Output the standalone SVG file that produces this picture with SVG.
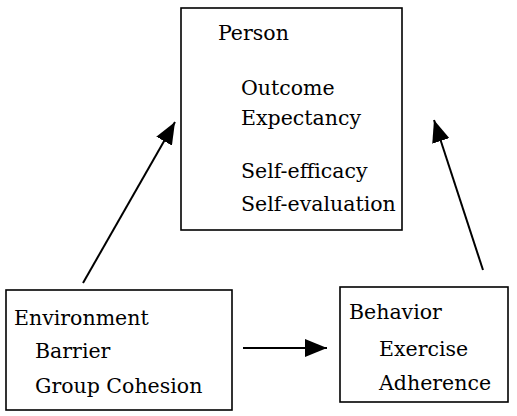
<svg xmlns="http://www.w3.org/2000/svg" width="517" height="416" viewBox="0 0 517 416">
<style>
.box{fill:#fff;stroke:#000;stroke-width:1.6}
.t{font-family:"DejaVu Serif","Liberation Serif",serif;font-size:20.5px;fill:#000}
.c{stroke:#000;stroke-width:2;fill:none}
</style>
<defs>
<marker id="ah" viewBox="0 0 22 18" refX="22" refY="9" markerWidth="22" markerHeight="18" markerUnits="userSpaceOnUse" orient="auto">
<path d="M0,0 L22,9 L0,18 Z" fill="#000"/>
</marker>
</defs>
<rect width="517" height="416" fill="#fff"/>
<g id="person">
<rect class="box" x="181" y="8" width="221" height="222"/>
<text class="t" x="218" y="40">Person</text>
<text class="t" x="241" y="95">Outcome</text>
<text class="t" x="241" y="125">Expectancy</text>
<text class="t" x="241" y="178">Self-efficacy</text>
<text class="t" x="241" y="211">Self-evaluation</text>
</g>
<g id="environment">
<rect class="box" x="6" y="290" width="226" height="120"/>
<text class="t" x="14" y="325">Environment</text>
<text class="t" x="35" y="358">Barrier</text>
<text class="t" x="35" y="393">Group Cohesion</text>
</g>
<g id="behavior">
<rect class="box" x="340" y="287" width="168" height="115"/>
<text class="t" x="349" y="319">Behavior</text>
<text class="t" x="379" y="356">Exercise</text>
<text class="t" x="379" y="390">Adherence</text>
</g>
<g id="connectors">
<line class="c" x1="83" y1="283" x2="175" y2="122" marker-end="url(#ah)"/>
<line class="c" x1="483" y1="270" x2="434" y2="120" marker-end="url(#ah)"/>
<line class="c" x1="243" y1="348" x2="327" y2="348" marker-end="url(#ah)"/>
</g>
</svg>
